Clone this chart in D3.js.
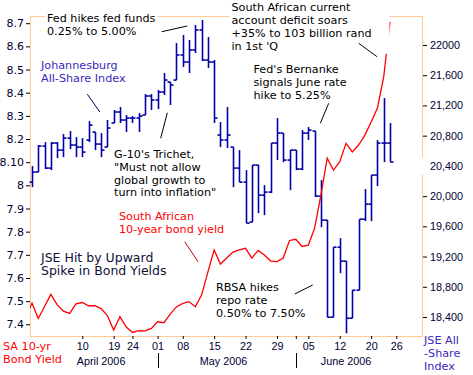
<!DOCTYPE html>
<html><head><meta charset="utf-8">
<script src="https://cdn.jsdelivr.net/npm/d3@7/dist/d3.min.js"></script>
<style>body{margin:0;background:#fff}svg{display:block}</style>
</head><body>
<svg id="c" width="473" height="375"></svg>
<script>
// ---------- DATA ----------
const tradingDays = [
 "2006-03-28","2006-03-29","2006-03-30","2006-03-31",
 "2006-04-03","2006-04-04","2006-04-05","2006-04-06","2006-04-07",
 "2006-04-10","2006-04-11","2006-04-12","2006-04-13",
 "2006-04-18","2006-04-19","2006-04-20","2006-04-21",
 "2006-04-24","2006-04-25","2006-04-26","2006-04-28",
 "2006-05-02","2006-05-03","2006-05-04","2006-05-05",
 "2006-05-08","2006-05-09","2006-05-10","2006-05-11","2006-05-12",
 "2006-05-15","2006-05-16","2006-05-17","2006-05-18","2006-05-19",
 "2006-05-22","2006-05-23","2006-05-24","2006-05-25","2006-05-26",
 "2006-05-29","2006-05-30","2006-05-31",
 "2006-06-01","2006-06-02",
 "2006-06-05","2006-06-06","2006-06-07","2006-06-08","2006-06-09",
 "2006-06-12","2006-06-13","2006-06-14","2006-06-15",
 "2006-06-19","2006-06-20","2006-06-21","2006-06-22","2006-06-23"
];
// SA 10-yr bond yield (one value per trading day above)
const bondYield = [7.433,7.491,7.425,7.477,7.529,7.485,7.457,7.447,7.488,7.494,
 7.480,7.480,7.468,7.438,7.375,7.433,7.388,7.365,7.373,7.372,
 7.382,7.411,7.407,7.444,7.475,7.490,7.498,7.476,7.526,7.625,
 7.721,7.660,7.686,7.712,7.721,7.728,7.686,7.719,7.699,7.673,
 7.671,7.686,7.762,7.767,7.736,7.742,7.815,7.958,8.117,8.066,
 8.102,8.181,8.144,8.174,8.217,8.273,8.334,8.468,8.706];
// JSE All-Share OHLC, from 2006-03-29 to 2006-06-23
const jseDays = tradingDays.slice(1);
const jseOpen = [20185,20318,20662,20371,20702,20609,20768,20676,20649,20742,
 20848,20689,20649,20967,21113,21007,21033,21033,21073,21325,
 21272,21377,21510,21536,21868,21775,21934,22199,21801,21775,
 20808,20742,20649,20371,20185,19656,20411,20013,20053,20702,
 20834,20477,20609,20358,20834,20861,20000,19682,18397,19324,
 19139,18384,18755,19695,19894,20278,20702,20702];
const jseHigh = [20397,20676,20715,20715,20715,20821,20861,20781,20768,20993,
 20848,20834,21007,21139,21179,21073,21060,21099,21351,21351,
 21404,21629,21510,22026,22132,22066,22265,22331,22106,21801,
 20980,21179,20649,20609,20344,20411,20411,20146,20702,21033,
 20834,20609,20609,20874,20914,20861,20212,19682,19324,19444,
 19139,18755,19695,20093,20278,20742,21298,20967];
const jseLow = [20119,20318,20358,20344,20503,20516,20622,20516,20516,20715,
 20609,20516,20649,20967,20967,20848,20967,20848,21073,21139,
 21152,21338,21205,21536,21709,21629,21894,21788,21695,20967,
 20649,20636,20119,20185,19642,19656,19775,19748,20040,20477,
 20450,20079,20344,20344,20742,19987,19589,18397,18397,18980,
 18185,18384,18755,19669,19669,20132,20450,20450];
const jseClose = [20318,20662,20371,20702,20609,20768,20676,20649,20583,20940,
 20689,20609,20901,21113,21007,21033,21033,21060,21325,21272,
 21377,21536,21470,21868,21775,21934,22199,21801,21775,21033,
 20742,20808,20371,20185,19642,20411,20013,20053,20702,20834,
 20477,20609,20358,20834,20874,20000,19682,18397,19324,19139,
 18384,18755,19695,19894,20278,20702,20702,20450];

const axisDays = tradingDays.concat(["2006-06-26"]);
const xTickDays = ["2006-04-10","2006-04-19","2006-04-24","2006-05-02","2006-05-08","2006-05-15",
 "2006-05-22","2006-05-29","2006-06-05","2006-06-12","2006-06-20","2006-06-26"];
const xTickLabels = ["10","19","24","01","08","15","22","29","05","12","20","26"];
const monthStartDays = ["2006-05-02","2006-06-01"];
const months = [
 {label:"April 2006", from:"2006-04-03", to:"2006-04-28"},
 {label:"May 2006", from:"2006-05-02", to:"2006-05-31"},
 {label:"June 2006", from:"2006-06-01", to:"2006-06-26"}
];
const leftTicks = [8.7,8.6,8.5,8.4,8.3,8.2,8.1,8.0,7.9,7.8,7.7,7.6,7.5,7.4];
const leftTickLabels = ["8.7","8.6","8.5","8.4","8.3","8.2","8.10","8","7.9","7.8","7.7","7.6","7.5","7.4"];
const rightTicks = [18400,18800,19200,19600,20000,20400,20800,21200,21600,22000];
const rightTickLabels = ["18,400","18,800","19,200","19,600","20,000","20,400","20,800","21,200","21,600","22000"];

// ---------- DRAW ----------
const svg = d3.select("#c");
const FRAME = "#ffc896", NAVY = "#0000a8", RED = "#ff0000", PURPLE = "#3a28c0", TXT = "#000";
const plot = {l:30, r:422, t:16, b:336};

const idx = d => axisDays.indexOf(d);
const x = d3.scaleLinear().domain([1, 58]).range([32, 390]);
const yL = d3.scaleLinear().domain([7.4, 8.7]).range([324.3, 23.2]);
const yR = d3.scaleLinear().domain([18400, 22000]).range([317, 45]);

svg.append("rect").attr("width",473).attr("height",375).attr("fill","#fff");

// frame
svg.append("rect").attr("x",plot.l+0.5).attr("y",plot.t+0.5)
  .attr("width",plot.r-plot.l).attr("height",plot.b-plot.t)
  .attr("fill","none").attr("stroke",FRAME).attr("stroke-width",1);

svg.append("defs").append("clipPath").attr("id","clip")
  .append("rect").attr("x",plot.l).attr("y",0).attr("width",plot.r-plot.l).attr("height",plot.b);

// JSE OHLC bars
const bars = svg.append("g").attr("stroke", NAVY).attr("stroke-width",1.6).attr("fill","none");
jseDays.forEach((d,i) => {
  const xi = Math.round(x(idx(d))) + 0.5;
  bars.append("line").attr("x1",xi).attr("x2",xi).attr("y1",yR(jseHigh[i])).attr("y2",yR(jseLow[i]));
  bars.append("line").attr("x1",xi-3).attr("x2",xi).attr("y1",yR(jseOpen[i])).attr("y2",yR(jseOpen[i]));
  bars.append("line").attr("x1",xi).attr("x2",xi+3).attr("y1",yR(jseClose[i])).attr("y2",yR(jseClose[i]));
});

// bond yield line
svg.append("path")
  .datum(tradingDays.map((d,i)=>[idx(d), bondYield[i]]))
  .attr("clip-path","url(#clip)")
  .attr("fill","none").attr("stroke",RED).attr("stroke-width",1.3)
  .attr("d", d3.line().x(p=>x(p[0])).y(p=>yL(p[1])));

// left axis
const la = svg.append("g").attr("transform",`translate(${plot.l},0)`)
  .call(d3.axisLeft(yL).tickValues(leftTicks).tickSize(4).tickPadding(2)
        .tickFormat((d,i)=>leftTickLabels[i]));
la.select(".domain").remove();
la.selectAll("line").attr("stroke","#000");
la.selectAll("text").attr("font-family","DejaVu Sans").attr("font-size",11).attr("fill","#000033");

// right axis
const ra = svg.append("g").attr("transform",`translate(${plot.r+1},0)`)
  .call(d3.axisRight(yR).tickValues(rightTicks).tickSize(4).tickPadding(3)
        .tickFormat((d,i)=>rightTickLabels[i]));
ra.select(".domain").remove();
ra.selectAll("line").attr("stroke","#000");
ra.selectAll("text").attr("font-family","Liberation Sans").attr("font-size",10.8).attr("fill","#000033");
ra.selectAll(".tick").filter(d=>d===20400).insert("rect","text")
  .attr("x",-4).attr("y",-9).attr("width",50).attr("height",17).attr("fill","#fff");

// bottom axis (labelled ticks plus unlabelled month-start ticks)
const tickIdx = xTickDays.map(idx);
const allTicks = Array.from(new Set(tickIdx.concat(monthStartDays.map(idx))));
const ba = svg.append("g").attr("transform",`translate(0,${plot.b})`)
  .call(d3.axisBottom(x).tickValues(allTicks)
        .tickSize(3).tickPadding(3)
        .tickFormat(v => { const k = tickIdx.indexOf(v); return k>=0 ? xTickLabels[k] : ""; }));
ba.select(".domain").remove();
ba.selectAll("line").attr("stroke","#000");
ba.selectAll("text").attr("font-family","Liberation Sans").attr("font-size",10.8).attr("fill","#000033");

// month labels and separators
months.forEach(m => {
  const cx = (x(idx(m.from)) + x(idx(m.to))) / 2;
  svg.append("text").attr("x",cx).attr("y",365).attr("text-anchor","middle")
    .attr("font-family","Liberation Sans").attr("font-size",10.8).attr("fill","#000033").text(m.label);
});
monthStartDays.forEach(d => {
  const xm = Math.round(x(idx(d))) + 0.5;
  svg.append("line").attr("x1",xm).attr("x2",xm).attr("y1",353).attr("y2",368).attr("stroke","#000");
});

// annotations
function note(lines, x0, y0, color, size, lh, bg) {
  const g = svg.append("g");
  const t = g.append("text").attr("font-family","DejaVu Sans").attr("font-size",size).attr("fill",color);
  lines.forEach((s,k)=> t.append("tspan").attr("x",x0).attr("y",y0+k*lh).text(s));
  if (bg) {
    const b = t.node().getBBox();
    g.insert("rect","text").attr("x",b.x-2).attr("y",b.y-1).attr("width",bg.w || b.width+4).attr("height",b.height+2).attr("fill","#fff");
  }
  return g;
}
function leader(x1,y1,x2,y2,color) {
  svg.append("line").attr("x1",x1).attr("y1",y1).attr("x2",x2).attr("y2",y2)
    .attr("stroke",color||"#000").attr("stroke-width",1);
}
note(["Fed hikes fed funds","0.25% to 5.00%"], 47, 21.5, TXT, 11.2, 13, {});
leader(161.7,31.7,187.3,26);
note(["South African current","account deficit soars","+35% to 103 billion rand","in 1st 'Q"], 231.5, 10.8, TXT, 11.2, 13, {w:160});
leader(358.7,43.3,377,56.7);
note(["Johannesburg","All-Share Index"], 41, 68.5, PURPLE, 11.2, 13.8);
leader(87.3,94.2,99.8,112,"#000060");
note(["Fed's Bernanke","signals June rate","hike to 5.25%"], 253.5, 72.7, TXT, 11.2, 13.2);
leader(328.7,103.3,320.3,123.3);
note(["G-10's Trichet,","\"Must not allow","global growth to","turn into inflation\""], 114, 157.7, TXT, 11.2, 12.9);
leader(167.3,112.7,160.7,138.3);
note(["South African","10-year bond yield"], 119, 220, RED, 11.2, 12.9);
leader(184.7,241.7,198,261.7,"#c00000");
note(["JSE Hit by Upward","Spike in Bond Yields"], 41, 261.7, "#10103a", 12.5, 13.5);
note(["RBSA hikes","repo rate","0.50% to 7.50%"], 216, 291, TXT, 11.2, 12.9);
leader(294.7,294,312.7,285);
note(["SA 10-yr","Bond Yield"], 3, 350, RED, 11.2, 12.8);
note(["JSE All","-Share","Index"], 424, 344, PURPLE, 11.2, 13);
</script>
</body></html>
